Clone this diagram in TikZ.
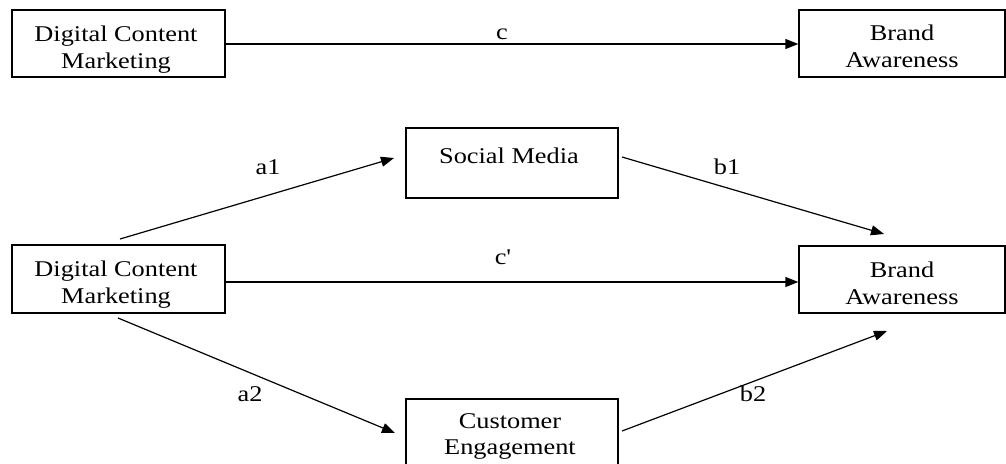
\documentclass[tikz,border=0pt]{standalone}
\usepackage{fontspec}
\setmainfont{Liberation Serif}[FakeStretch=1.17]
\newfontfamily\plainserif{Liberation Serif}[FakeStretch=1.17]
\usetikzlibrary{arrows.meta}
\tikzset{
  box/.style={draw=black, line width=1.2pt, rectangle, inner sep=0pt},
  txt/.style={inner sep=0pt, align=center, anchor=north, font=\fontsize{22.5}{26.8}\selectfont},
  lbl/.style={inner sep=0pt, anchor=base, font=\fontsize{22.5}{26.8}\selectfont},
  arr/.style={draw=black, line width=1.2pt, -{Triangle[length=13pt,width=10pt]}}
}
\begin{document}
\begin{tikzpicture}[x=1pt,y=-1pt]
\clip (0,0) rectangle (1006,463);
\fill[white] (0,0) rectangle (1006,463);
% boxes
\node[box, minimum width=213pt, minimum height=67pt] (dcm1) at (118.5,43.5) {};
\node[box, minimum width=206pt, minimum height=67pt] (ba1) at (902,43.5) {};
\node[box, minimum width=212pt, minimum height=70pt] (sm) at (512,163) {};
\node[box, minimum width=213pt, minimum height=68pt] (dcm2) at (118.5,279) {};
\node[box, minimum width=206pt, minimum height=67pt] (ba2) at (902,279.5) {};
\node[box, minimum width=212pt, minimum height=67pt] (ce) at (512,432.5) {};
% texts
\node[txt] (t1) at (116,25.8) {Digital Content\\Marketing};
\node[txt] (t2) at (902,25) {Brand\\Awareness};
\node[txt] (t3) at (509,148) {Social Media};
\node[txt] (t4) at (116,260.8) {Digital Content\\Marketing};
\node[txt] (t5) at (902,262) {Brand\\Awareness};
\node[txt] (t6) at (510,413) {Customer\\Engagement};
% connector end points
\coordinate (a1s) at (120,239);
\coordinate (a1e) at (394,158);
\coordinate (b1s) at (622,157);
\coordinate (b1e) at (884,234);
\coordinate (a2s) at (118,318);
\coordinate (a2e) at (395,433);
\coordinate (b2s) at (622,431);
\coordinate (b2e) at (887,331);
% connectors
\draw[arr] (dcm1.east |- 0,44) -- (ba1.west |- 0,44);
\draw[arr] (dcm2.east |- 0,282) -- (ba2.west |- 0,282);
\draw[arr] (a1s) -- (a1e);
\draw[arr] (b1s) -- (b1e);
\draw[arr] (a2s) -- (a2e);
\draw[arr] (b2s) -- (b2e);
% labels
\node[lbl] (lc) at (502,39) {c};
\node[lbl, font=\fontsize{22.5}{26.8}\plainserif] (lcp) at (503,264) {c'};
\node[lbl] (la1) at (268,174) {a1};
\node[lbl] (lb1) at (727,174) {b1};
\node[lbl] (la2) at (250,401) {a2};
\node[lbl] (lb2) at (753,401) {b2};
\end{tikzpicture}
\end{document}
